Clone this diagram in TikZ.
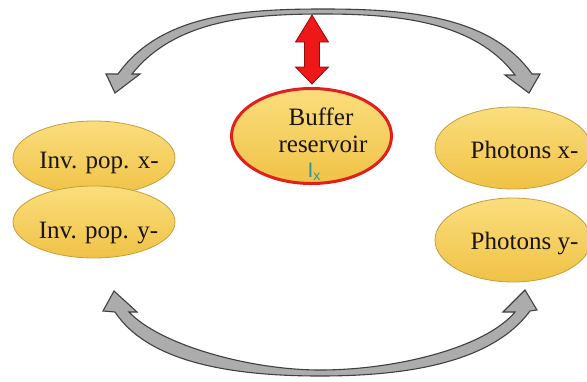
\documentclass[tikz,border=0pt]{standalone}
\usepackage{fontspec}
\setmainfont{Liberation Serif}
\newfontfamily\tnr{Liberation Serif}
\newfontfamily\lsans{Liberation Sans}
\usetikzlibrary{shapes.geometric}
\definecolor{goldlight}{RGB}{250,222,125}
\definecolor{golddark}{RGB}{240,194,70}
\definecolor{goldedge}{RGB}{196,158,60}
\definecolor{redfill}{RGB}{238,24,24}
\definecolor{rededge}{RGB}{150,12,12}
\definecolor{redbuf}{RGB}{226,30,30}
\definecolor{grayfill}{RGB}{172,172,172}
\definecolor{grayedge}{RGB}{64,64,64}
\definecolor{tealtext}{RGB}{40,150,175}
\definecolor{txt}{RGB}{25,20,15}
\begin{document}
\begin{tikzpicture}[x=1pt,y=-1pt,
  pop/.style={ellipse, draw=goldedge, line width=0.8pt, top color=goldlight, bottom color=golddark, inner sep=0pt},
  lbl/.style={anchor=base, inner sep=0pt, text=txt, font=\tnr\fontsize{25}{27}\selectfont},
  curvearrow/.style={draw=grayedge, line width=1.1pt, fill=grayfill, line join=miter},
  redarrow/.style={draw=rededge, line width=0.8pt, fill=redfill, line join=miter}
]
\useasboundingbox (0,0) rectangle (587,381);

% gray curved arrows
\path[curvearrow] (106,74) -- (115,93) -- (140,74) -- (132,74)
  .. controls (175,20) and (250,14) .. (323,14)
  .. controls (400,14) and (475,22) .. (515,75)
  -- (505,75) -- (529,93) -- (540,74) -- (532,74)
  .. controls (490,15) and (405,9) .. (323,9)
  .. controls (240,9) and (160,15) .. (118,74) -- cycle;
\path[curvearrow] (103,311) -- (114,291) -- (137,312) -- (129,312)
  .. controls (160,345) and (250,370) .. (320,370)
  .. controls (395,370) and (485,348) .. (515,312)
  -- (503,312) -- (525,290) -- (537,310) -- (530,311)
  .. controls (490,365) and (400,376) .. (320,376)
  .. controls (240,376) and (150,365) .. (115,312) -- cycle;

% red double arrow
\path[redarrow] (312,15) -- (328.5,42) -- (319.5,42) -- (319.5,67) -- (328.5,67)
  -- (312,84) -- (295.5,67) -- (304.5,67) -- (304.5,42) -- (295.5,42) -- cycle;

% ellipses
\node[pop, minimum width=162pt, minimum height=74pt] (ipx) at (94,158) {};
\node[pop, minimum width=162pt, minimum height=72pt] (ipy) at (94,222) {};
\node[pop, minimum width=156pt, minimum height=82pt] (phx) at (513,148) {};
\node[pop, minimum width=156pt, minimum height=84pt] (phy) at (513,240) {};
\node[pop, draw=redbuf, line width=3pt, minimum width=160pt, minimum height=95pt] (buf) at (311.5,136) {};

% labels
\node[lbl] (tipx) at (99,168) {Inv. pop. x-};
\node[lbl] (tipy) at (98.5,238) {Inv. pop. y-};
\node[lbl] (tphx) at (524.5,158) {Photons x-};
\node[lbl] (tphy) at (524.5,249) {Photons y-};
\node[lbl] (tbuf1) at (321,125) {Buffer};
\node[lbl] (tbuf2) at (323,152) {reservoir};
\node[anchor=base, inner sep=0pt, text=tealtext, font=\lsans\fontsize{21}{23}\selectfont] (tix) at (314,177) {I\raisebox{-3pt}{\fontsize{14}{16}\selectfont x}};
\end{tikzpicture}
\end{document}
